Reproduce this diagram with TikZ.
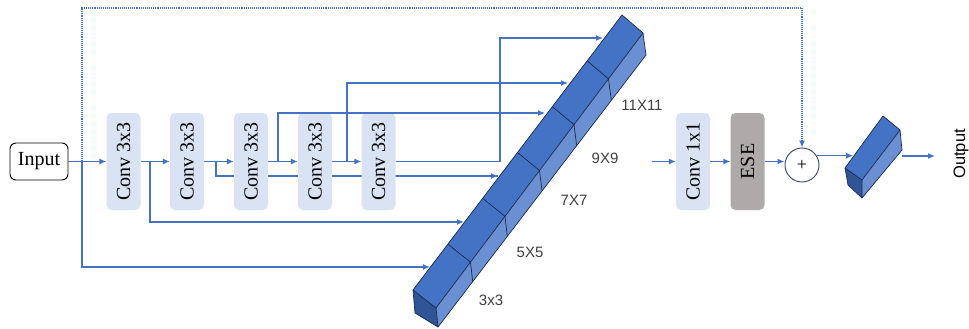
\documentclass[tikz,border=0pt]{standalone}
\usepackage{fontspec}
\setmainfont{Liberation Serif}
\newfontfamily\labfont{Liberation Sans}
\usetikzlibrary{arrows.meta,calc,backgrounds}
\definecolor{lnblue}{HTML}{4472C4}
\definecolor{convfill}{HTML}{DAE3F3}
\definecolor{esefill}{HTML}{AEAAAA}
\definecolor{topface}{HTML}{4472C4}
\definecolor{sideface}{HTML}{6A8FD2}
\definecolor{endface}{HTML}{2F5597}
\definecolor{edgecol}{HTML}{1B2A4A}
\definecolor{labcol}{HTML}{404040}
\tikzset{
  conn/.style={draw=lnblue, line width=1.1pt},
  arr/.style={conn, -{Latex[length=7pt,width=6pt]}},
  dotarr/.style={draw=lnblue, line width=1.1pt, densely dotted, -{Latex[length=7pt,width=6pt]}},
  convbox/.style={fill=convfill, draw=none, rounded corners=5pt, minimum width=34pt, minimum height=97pt, inner sep=0pt, font=\fontsize{20}{22}\selectfont},
  esebox/.style={convbox, fill=esefill},
  inbox/.style={draw=black, line width=0.9pt, rounded corners=6pt, minimum width=58pt, minimum height=37pt, inner sep=0pt, font=\fontsize{20}{22}\selectfont},
  sumnode/.style={circle, draw=edgecol!80, line width=1pt, minimum size=34pt, inner sep=0pt, fill=white, font=\fontsize{18}{20}\selectfont},
  face/.style={draw=edgecol, line width=0.7pt, line join=round},
  sizelab/.style={text=labcol, font=\labfont\fontsize{15}{17}\selectfont, inner sep=0pt},
}
\begin{document}
\begin{tikzpicture}[x=1pt,y=-1pt]
\useasboundingbox (0,0) rectangle (969,329);

% nodes
\node[inbox] (in) at (39,161.5) {Input};
\node[convbox] (c1) at (123.5,161.5) {\rotatebox{90}{Conv 3x3}};
\node[convbox] (c2) at (187,161.5) {\rotatebox{90}{Conv 3x3}};
\node[convbox] (c3) at (251,161.5) {\rotatebox{90}{Conv 3x3}};
\node[convbox] (c4) at (315,161.5) {\rotatebox{90}{Conv 3x3}};
\node[convbox] (c5) at (378.5,161.5) {\rotatebox{90}{Conv 3x3}};
\node[convbox] (c6) at (693,161.5) {\rotatebox{90}{Conv 1x1}};
\node[esebox] (ese) at (747.5,161.5) {\rotatebox{90}{ESE}};
\node[sumnode] (plus) at (802,165) {+};
\node[text=black, font=\labfont\fontsize{16.5}{18}\selectfont, inner sep=0pt] (out) at (961,154) {\rotatebox{90}{Output}};

% junction and target coordinates
\coordinate (j0) at (82,161.5);
\coordinate (j1) at (150,161.5);
\coordinate (j2) at (216,161.5);
\coordinate (j3) at (278,161.5);
\coordinate (j4) at (347,161.5);
\coordinate (j5) at (500,161.5);
\coordinate (t1) at (430,267);
\coordinate (t2) at (464,222);
\coordinate (t3) at (498,176);
\coordinate (t4) at (545,113);
\coordinate (t5) at (568,83);
\coordinate (t6) at (603,38);
\coordinate (s0) at (652,161.5);
\coordinate (o1) at (853,156);
\coordinate (o2) at (902,156);
\coordinate (o3) at (935,156);

% connector passing behind the blocks
\begin{scope}[on background layer]
\draw[conn] (j2) |- ($(j2)+(0,14.5)$) -- (t3);
\end{scope}

% main chain
\draw[arr] (in.east) -- (c1.west);
\draw[arr] (c1.east) -- (c2.west);
\draw[arr] (c2.east) -- (c3.west);
\draw[arr] (c3.east) -- (c4.west);
\draw[arr] (c4.east) -- (c5.west);
\draw[arr] (s0) -- (c6.west);
\draw[arr] (c6.east) -- (ese.west);
\draw[arr] (ese.east) -- (ese.east -| plus.west);

% branches to the long prism
\draw[arr] (j0) |- (t1);
\draw[arr] (j1) |- (t2);
\draw[arr] (j3) |- (t4);
\draw[arr] (j4) |- (t5);
\draw[arr] (c5.east) -- (j5) |- (t6);
\draw[arr] ($(t3)+(-8,0)$) -- (t3);

% dotted identity
\draw[dotarr] (j0) -- (82,8) -| (plus.north);

% long prism
\coordinate (A0) at (413,290); \coordinate (A1) at (622,15);
\coordinate (R0) at (436,308); \coordinate (R1) at (643,33);
\coordinate (B0) at (438,327); \coordinate (B1) at (646,55);
\coordinate (E0) at (415,313);
\fill[topface] (A0) -- (A1) -- (R1) -- (R0) -- cycle;
\fill[sideface] (R0) -- (R1) -- (B1) -- (B0) -- cycle;
\fill[endface] (A0) -- (R0) -- (B0) -- (E0) -- cycle;
\foreach \k in {1,...,5}
  \draw[face] ($(A0)!\k/6!(A1)$) -- ($(R0)!\k/6!(R1)$) -- ($(B0)!\k/6!(B1)$);
\draw[face] (A0) -- (A1) -- (R1) -- (R0) -- cycle;
\draw[face] (R1) -- (B1) -- (B0) -- (R0);
\draw[face] (A0) -- (E0) -- (B0);

% size labels
\node[sizelab] (l1) at (491,300) {3x3};
\node[sizelab] (l2) at (530,252) {5X5};
\node[sizelab] (l3) at (574,200) {7X7};
\node[sizelab] (l4) at (605,158) {9X9};
\node[sizelab] (l5) at (642,105) {11X11};

% small output prism
\coordinate (a0) at (845,168); \coordinate (a1) at (883,116);
\coordinate (r0) at (862,180); \coordinate (r1) at (900,130);
\coordinate (b0) at (862,198); \coordinate (b1) at (902,150);
\coordinate (e0) at (848,185);
\fill[topface] (a0) -- (a1) -- (r1) -- (r0) -- cycle;
\fill[sideface] (r0) -- (r1) -- (b1) -- (b0) -- cycle;
\fill[endface] (a0) -- (r0) -- (b0) -- (e0) -- cycle;
\draw[face] (a0) -- (a1) -- (r1) -- (r0) -- cycle;
\draw[face] (r1) -- (b1) -- (b0) -- (r0);
\draw[face] (a0) -- (e0) -- (b0);

% output arrows (drawn over the small prism)
\draw[arr] (plus.32) -- (plus.32 -| o1);
\draw[arr] (o2) -- (o3);
\end{tikzpicture}
\end{document}
